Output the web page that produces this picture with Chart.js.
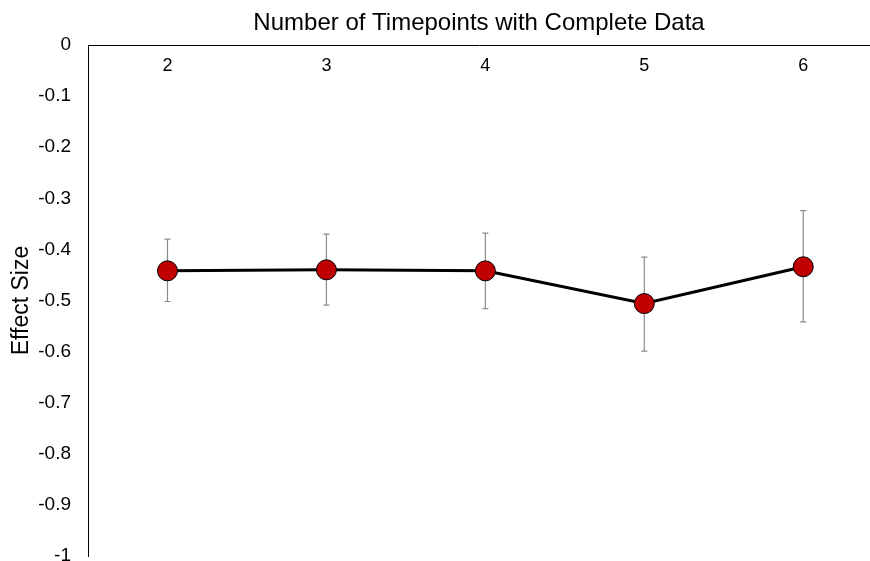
<!DOCTYPE html>
<html>
<head>
<meta charset="utf-8">
<script src="https://cdn.jsdelivr.net/npm/chart.js@4.4.1/dist/chart.umd.min.js"></script>
<style>
  html, body { margin: 0; padding: 0; background: #fff; }
  #wrap { width: 870px; height: 561px; }
</style>
</head>
<body>
<div id="wrap"><canvas id="grafico"></canvas></div>
<script>
const timepoints = [2, 3, 4, 5, 6];
const effectSize = [-0.442, -0.440, -0.442, -0.506, -0.434];
const errUpper = [-0.380, -0.370, -0.368, -0.415, -0.324];
const errLower = [-0.502, -0.509, -0.516, -0.599, -0.542];
const yTicks = [0, -0.1, -0.2, -0.3, -0.4, -0.5, -0.6, -0.7, -0.8, -0.9, -1];

const fonte = "'Liberation Sans', Arial, Helvetica, sans-serif";

// barras de erro desenhadas pelas escalas do gráfico
const barrasErro = {
  id: "barrasErro",
  beforeDatasetsDraw(chart) {
    const ctx = chart.ctx;
    const x = chart.scales.x;
    const y = chart.scales.y;
    ctx.save();
    ctx.strokeStyle = "#8c8c8c";
    ctx.lineWidth = 1.2;
    timepoints.forEach((t, i) => {
      const px = x.getPixelForValue(t);
      const top = y.getPixelForValue(errUpper[i]);
      const bot = y.getPixelForValue(errLower[i]);
      ctx.beginPath();
      ctx.moveTo(px, top);
      ctx.lineTo(px, bot);
      ctx.moveTo(px - 3, top);
      ctx.lineTo(px + 3, top);
      ctx.moveTo(px - 3, bot);
      ctx.lineTo(px + 3, bot);
      ctx.stroke();
    });
    ctx.restore();
  }
};

new Chart(document.getElementById("grafico"), {
  type: "line",
  data: {
    datasets: [{
      data: timepoints.map((t, i) => ({ x: t, y: effectSize[i] })),
      borderColor: "#000",
      borderWidth: 3,
      pointRadius: 10,
      pointHoverRadius: 10,
      pointBackgroundColor: "#c00000",
      pointBorderColor: "#000",
      pointBorderWidth: 1,
      tension: 0
    }]
  },
  plugins: [barrasErro],
  options: {
    responsive: true,
    maintainAspectRatio: false,
    animation: false,
    layout: { autoPadding: false, padding: { left: 0, right: 0, top: 0, bottom: 5 } },
    plugins: {
      legend: { display: false },
      tooltip: { enabled: false }
    },
    scales: {
      x: {
        type: "linear",
        position: "top",
        min: 1.5,
        max: 6.42,
        afterBuildTicks: (s) => { s.ticks = timepoints.map(v => ({ value: v })); },
        afterFit: (s) => { s.height = 45; },
        grid: { display: false },
        border: { display: true, color: "#000", width: 1 },
        ticks: {
          mirror: true,
          padding: 10,
          maxRotation: 0,
          minRotation: 0,
          autoSkip: false,
          color: "#000",
          font: { family: fonte, size: 18 },
          callback: (v) => String(v)
        },
        title: {
          display: true,
          text: "Number of Timepoints with Complete Data",
          color: "#000",
          font: { family: fonte, size: 24 },
          padding: { top: 9, bottom: 0 }
        }
      },
      y: {
        min: -1,
        max: 0,
        afterBuildTicks: (s) => { s.ticks = yTicks.map(v => ({ value: v })); },
        afterFit: (s) => { s.width = 88; s.paddingBottom = 0; },
        grid: { display: true, drawOnChartArea: false, drawTicks: true, tickLength: 17, color: "rgba(0,0,0,0)" },
        border: { display: true, color: "#000", width: 1 },
        ticks: {
          padding: 0,
          color: "#000",
          font: { family: fonte, size: 19 },
          callback: (v) => String(Math.round(v * 10) / 10)
        },
        title: {
          display: true,
          text: "Effect Size",
          color: "#000",
          font: { family: fonte, size: 23 },
          padding: { top: 8, bottom: 0 }
        }
      }
    }
  }
});
</script>
</body>
</html>
